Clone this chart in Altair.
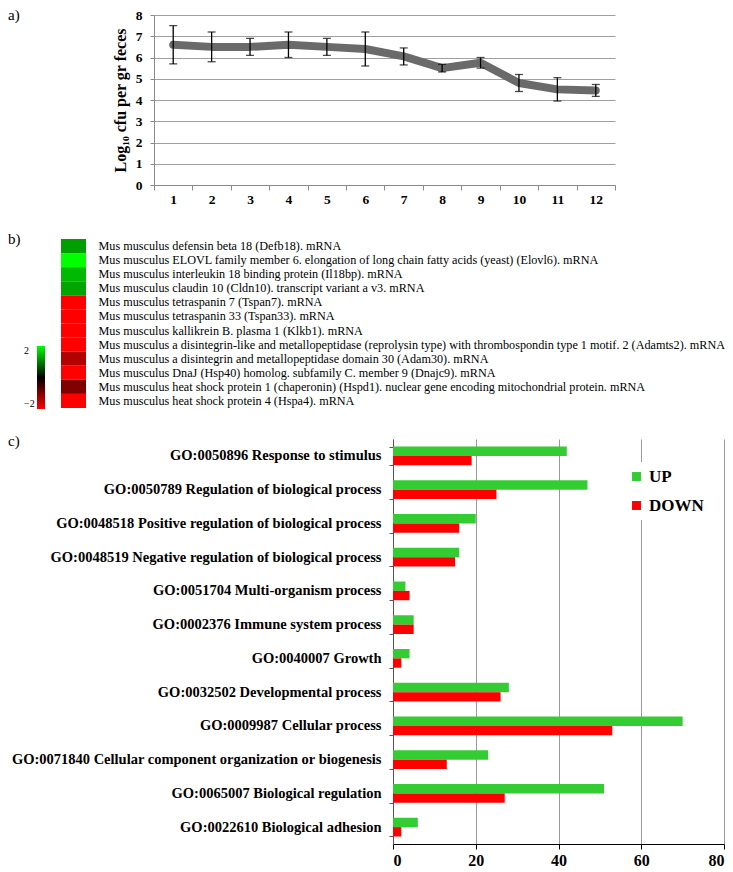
import altair as alt
import pandas as pd

FONT = "Liberation Serif"

panel_labels = ["a)", "b)", "c)"]

# ---------------- panel a ----------------
days = ["1", "2", "3", "4", "5", "6", "7", "8", "9", "10", "11", "12"]
log_cfu = [6.6, 6.5, 6.5, 6.6, 6.5, 6.4, 6.05, 5.5, 5.75, 4.8, 4.5, 4.45]
log_cfu_err = [0.9, 0.7, 0.4, 0.6, 0.4, 0.8, 0.4, 0.18, 0.25, 0.4, 0.55, 0.28]
y_ticks_a = [0, 1, 2, 3, 4, 5, 6, 7, 8]

# ---------------- panel b ----------------
genes = [
    "Mus musculus defensin beta 18 (Defb18). mRNA",
    "Mus musculus ELOVL family member 6. elongation of long chain fatty acids (yeast) (Elovl6). mRNA",
    "Mus musculus interleukin 18 binding protein (Il18bp). mRNA",
    "Mus musculus claudin 10 (Cldn10). transcript variant a  v3. mRNA",
    "Mus musculus tetraspanin 7 (Tspan7). mRNA",
    "Mus musculus tetraspanin 33 (Tspan33). mRNA",
    "Mus musculus kallikrein B. plasma 1 (Klkb1). mRNA",
    "Mus musculus a disintegrin-like and metallopeptidase (reprolysin type) with thrombospondin type 1 motif. 2 (Adamts2). mRNA",
    "Mus musculus a disintegrin and metallopeptidase domain 30 (Adam30). mRNA",
    "Mus musculus DnaJ (Hsp40) homolog. subfamily C. member 9 (Dnajc9). mRNA",
    "Mus musculus heat shock protein 1 (chaperonin) (Hspd1). nuclear gene encoding mitochondrial protein. mRNA",
    "Mus musculus heat shock protein 4 (Hspa4). mRNA",
]
gene_expr = [1.25, 2.0, 1.45, 1.3, -2.0, -2.0, -2.0, -2.0, -1.4, -2.0, -1.0, -2.0]
colorbar_ticks = [-2, 2]

# ---------------- panel c ----------------
go_terms = [
    "GO:0050896 Response to stimulus",
    "GO:0050789 Regulation of biological process",
    "GO:0048518 Positive regulation of biological process",
    "GO:0048519 Negative regulation of biological process",
    "GO:0051704 Multi-organism process",
    "GO:0002376 Immune system process",
    "GO:0040007 Growth",
    "GO:0032502 Developmental process",
    "GO:0009987 Cellular process",
    "GO:0071840 Cellular component organization or biogenesis",
    "GO:0065007 Biological regulation",
    "GO:0022610 Biological adhesion",
]
up_counts = [42, 47, 20, 16, 3, 5, 4, 28, 70, 23, 51, 6]
down_counts = [19, 25, 16, 15, 4, 5, 2, 26, 53, 13, 27, 2]
directions = ["UP", "DOWN"]
x_ticks_c = [0, 20, 40, 60, 80]

# ---------------- layout constants ----------------
LABEL_X = -146          # panel letters, relative to common plot origin
A_W, A_H = 461, 170
B_W, B_H = 100, 192
C_W, C_H = 570, 405
C_SHIFT = 239           # panel c plot starts this far right of the common origin


def panel_letter(text, y):
    return alt.Chart(pd.DataFrame({"t": [text]})).mark_text(
        align="left", baseline="middle", fontSize=15, font=FONT, color="black"
    ).encode(text="t:N", x=alt.value(LABEL_X), y=alt.value(y))


# ---------------- panel a chart ----------------
df_a = pd.DataFrame({"day": days, "mean": log_cfu, "err": log_cfu_err})
df_a["lo"] = df_a["mean"] - df_a["err"]
df_a["hi"] = df_a["mean"] + df_a["err"]

x_axis_a = alt.Axis(
    title=None, labelAngle=0, tickBand="extent", grid=False,
    labelFont=FONT, labelFontWeight="bold", labelFontSize=13.5, labelColor="black",
    labelPadding=2, domainColor="#8a8a8a", tickColor="#8a8a8a", tickSize=5,
)
y_axis_a = alt.Axis(
    values=y_ticks_a, title="Log₁₀ cfu per gr  feces",
    titleFont=FONT, titleFontSize=16, titleFontWeight="bold", titleColor="black",
    titlePadding=7,
    labelFont=FONT, labelFontWeight="bold", labelFontSize=13.5, labelColor="black",
    labelPadding=8, tickSize=4, tickColor="#8a8a8a", domainColor="#8a8a8a",
    grid=True, gridColor="#a0a0a0",
)
x_scale_a = alt.Scale(type="band", paddingInner=0, paddingOuter=0)
y_scale_a = alt.Scale(domain=[0, 8], nice=False)

xa = alt.X("day:O", sort=days, bandPosition=0.5, scale=x_scale_a, axis=x_axis_a)
base_a = alt.Chart(df_a)

line_a = base_a.mark_line(
    color="#6a6a6a", strokeWidth=8, strokeCap="round", strokeJoin="round"
).encode(x=xa, y=alt.Y("mean:Q", scale=y_scale_a, axis=y_axis_a))
rules_a = base_a.mark_rule(color="black", strokeWidth=1.3).encode(
    x=xa, y=alt.Y("lo:Q", scale=y_scale_a, axis=y_axis_a), y2="hi:Q"
)
cap_lo = base_a.mark_tick(color="black", thickness=1.3, size=8).encode(
    x=alt.X("day:O", sort=days, scale=x_scale_a, axis=x_axis_a),
    y=alt.Y("lo:Q", scale=y_scale_a, axis=y_axis_a),
)
cap_hi = base_a.mark_tick(color="black", thickness=1.3, size=8).encode(
    x=alt.X("day:O", sort=days, scale=x_scale_a, axis=x_axis_a),
    y=alt.Y("hi:Q", scale=y_scale_a, axis=y_axis_a),
)
panel_a = alt.layer(
    line_a, rules_a, cap_lo, cap_hi, panel_letter(panel_labels[0], 0)
).properties(width=A_W, height=A_H)

# ---------------- panel b chart ----------------
df_b = pd.DataFrame({"gene": genes, "expr": gene_expr, "sample": ["array"] * len(genes)})
heat = alt.Chart(df_b).mark_rect().encode(
    x=alt.X("sample:N", scale=alt.Scale(range=[-93, -68], paddingInner=0, paddingOuter=0), axis=None),
    y=alt.Y(
        "gene:N", sort=genes,
        scale=alt.Scale(range=[23, B_H], paddingInner=0, paddingOuter=0),
        axis=alt.Axis(
            orient="right", offset=-(B_W + 68), title=None, domain=False, ticks=False,
            labelFont=FONT, labelFontSize=12.2, labelColor="black", labelPadding=12,
            labelLimit=0, labelAlign="left",
        ),
    ),
    color=alt.Color(
        "expr:Q",
        scale=alt.Scale(domain=[-2, 2], range=["#ff0000", "#000000", "#00ff00"], interpolate="rgb"),
        legend=alt.Legend(
            orient="none", legendX=-117, legendY=130, direction="vertical",
            gradientLength=63, gradientThickness=8, gradientStrokeWidth=0,
            values=colorbar_ticks, title=None, padding=0,
            labelFont=FONT, labelFontSize=10, labelColor="black",
            labelAlign="left", labelOffset={"expr": "-21"},
        ),
    ),
)
panel_b = alt.layer(heat, panel_letter(panel_labels[1], 23)).properties(width=B_W, height=B_H)

# ---------------- panel c chart ----------------
rows = []
for term, u, d in zip(go_terms, up_counts, down_counts):
    rows.append({"term": term, "dir": directions[0], "count": u})
    rows.append({"term": term, "dir": directions[1], "count": d})
df_c = pd.DataFrame(rows)

bars = alt.Chart(df_c).mark_bar().encode(
    y=alt.Y(
        "term:N", sort=go_terms,
        scale=alt.Scale(paddingInner=0.445, paddingOuter=0.2225),
        axis=alt.Axis(
            title=None, offset=-C_SHIFT, tickBand="extent",
            labelFont=FONT, labelFontWeight="bold", labelFontSize=14.5, labelColor="black",
            labelPadding=8, labelLimit=0, tickSize=4, tickColor="#555555", domainColor="#555555",
        ),
    ),
    yOffset=alt.YOffset("dir:N", sort=directions),
    x=alt.X(
        "count:Q",
        scale=alt.Scale(domain=[0, 80], range=[C_SHIFT, C_W], nice=False),
        axis=alt.Axis(
            values=x_ticks_c, title=None, grid=True, gridColor="#999999",
            domainColor="black", tickColor="black", tickSize=5,
            labelFont=FONT, labelFontWeight="bold", labelFontSize=16, labelColor="black",
            labelPadding=3,
        ),
    ),
    color=alt.Color(
        "dir:N", sort=directions,
        scale=alt.Scale(domain=directions, range=["#33cc33", "#ff0000"]),
        legend=alt.Legend(
            orient="none", legendX=468, legendY=23, title=None,
            symbolType="square", symbolSize=80, symbolStrokeWidth=0,
            labelFont=FONT, labelFontSize=17, labelFontWeight="bold", labelColor="black",
            labelOffset=4, rowPadding=11, padding=6, fillColor="white",
        ),
    ),
)
panel_c = alt.layer(bars, panel_letter(panel_labels[2], 2)).properties(width=C_W, height=C_H)

chart = alt.vconcat(
    panel_a, panel_b, panel_c, spacing=31, bounds="flush"
).resolve_scale(
    color="independent", x="independent", y="independent"
).properties(
    padding={"left": 0, "top": 0, "right": 0, "bottom": 0}
).configure_view(strokeWidth=0)

chart.save("out.html", embed_options={"renderer": "svg", "actions": False})
